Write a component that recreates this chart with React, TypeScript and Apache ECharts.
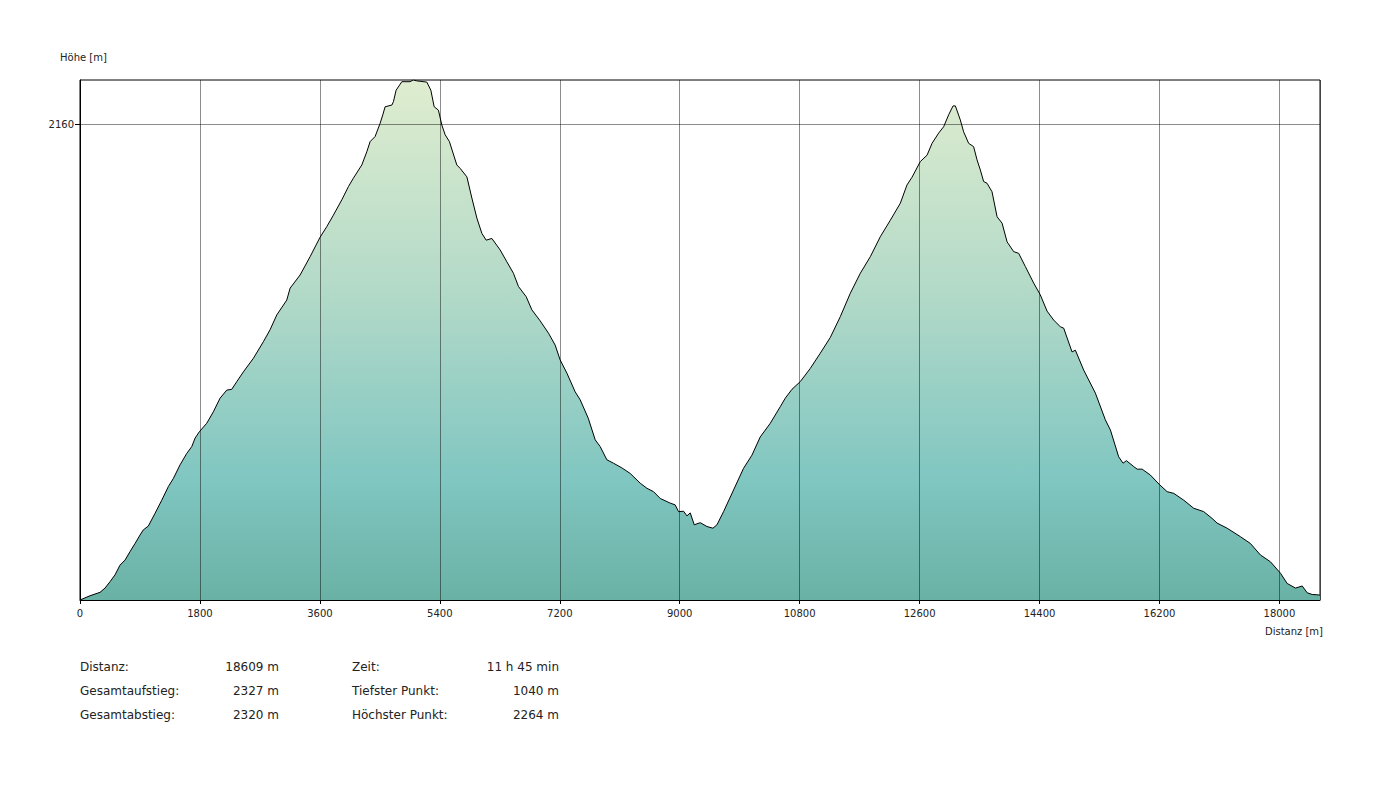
import React, { useEffect, useRef } from "react";
import * as echarts from "echarts";

// Distance along the route (m)
const distance = [
  0, 150, 300, 375, 450, 525, 600, 676, 751, 826, 901, 950, 1025, 1126, 1227, 1326, 1401, 1501, 1602, 1677,
  1727, 1791, 1902, 2001, 2102, 2202, 2278, 2353, 2452, 2602, 2752, 2852, 2953, 3103, 3153, 3303, 3453, 3603,
  3704, 3803, 3929, 4028, 4103, 4229, 4304, 4354, 4429, 4504, 4544, 4579, 4680, 4704, 4744, 4830, 4954, 4999,
  5055, 5205, 5265, 5315, 5379, 5430, 5480, 5544, 5655, 5705, 5806, 5881, 5956, 6031, 6095, 6181, 6305, 6406,
  6505, 6580, 6696, 6781, 6906, 7031, 7131, 7206, 7307, 7431, 7507, 7627, 7732, 7807, 7907, 8006, 8132, 8256,
  8407, 8508, 8607, 8708, 8858, 8931, 8983, 9058, 9108, 9158, 9218, 9308, 9409, 9499, 9559, 9658, 9808, 9958,
  10084, 10209, 10359, 10509, 10584, 10685, 10809, 10959, 11110, 11260, 11410, 11560, 11710, 11860, 12010,
  12161, 12311, 12411, 12486, 12611, 12712, 12787, 12886, 12961, 13036, 13102, 13137, 13211, 13261, 13336,
  13411, 13462, 13512, 13561, 13612, 13687, 13763, 13838, 13913, 14012, 14087, 14187, 14312, 14412, 14513,
  14612, 14713, 14762, 14888, 14938, 15063, 15238, 15388, 15464, 15588, 15654, 15704, 15814, 15865, 15940,
  16064, 16204, 16315, 16414, 16564, 16714, 16864, 16990, 17065, 17215, 17415, 17565, 17715, 17865, 18016,
  18116, 18241, 18342, 18417, 18492, 18591, 18609,
];

// Elevation (m)
const elevation = [
  1040, 1050, 1058, 1068, 1083, 1099, 1122, 1134, 1154, 1173, 1193, 1205, 1214, 1244, 1275, 1307, 1326, 1358, 1385, 1401,
  1421, 1436, 1456, 1483, 1515, 1534, 1536, 1554, 1577, 1609, 1648, 1676, 1711, 1746, 1774, 1805, 1848, 1894,
  1919, 1946, 1982, 2013, 2033, 2064, 2095, 2119, 2131, 2162, 2182, 2201, 2205, 2213, 2240, 2260, 2260, 2264,
  2262, 2259, 2240, 2201, 2193, 2158, 2135, 2119, 2064, 2056, 2036, 1986, 1939, 1903, 1887, 1891, 1864, 1836,
  1809, 1778, 1754, 1723, 1697, 1668, 1640, 1605, 1574, 1530, 1511, 1468, 1417, 1401, 1370, 1362, 1351, 1338,
  1315, 1303, 1295, 1279, 1268, 1264, 1248, 1249, 1238, 1245, 1217, 1222, 1213, 1209, 1217, 1248, 1299, 1350,
  1381, 1424, 1456, 1495, 1515, 1536, 1554, 1585, 1621, 1658, 1707, 1762, 1809, 1848, 1895,
  1934, 1974, 2017, 2035, 2072, 2087, 2115, 2139, 2154, 2182, 2203, 2203, 2170, 2142, 2115,
  2107, 2076, 2052, 2025, 2021, 2001, 1942, 1927, 1883, 1860, 1856, 1825, 1786, 1758, 1720,
  1699, 1683, 1680, 1624, 1628, 1581, 1527, 1464, 1440, 1377, 1362, 1368, 1354, 1348, 1348,
  1334, 1311, 1295, 1291, 1275, 1256, 1248, 1232, 1221, 1209, 1189, 1173, 1146, 1130, 1103,
  1079, 1068, 1073, 1057, 1053, 1052, 1051,
];

const xMin = 0;
const xMax = 18609;
const xInterval = 1800;
const yMin = 1040;
const yMax = 2264;
const yTickValues = [2160];

const statsLeftLabels = ["Distanz:", "Gesamtaufstieg:", "Gesamtabstieg:"];
const statsLeftValues = ["18609 m", "2327 m", "2320 m"];
const statsRightLabels = ["Zeit:", "Tiefster Punkt:", "Höchster Punkt:"];
const statsRightValues = ["11 h 45 min", "1040 m", "2264 m"];

const FONT = "DejaVu Sans, Verdana, sans-serif";
const GRID_COLOR = "rgba(0,0,0,0.45)";

export default function App() {
  const ref = useRef<HTMLDivElement>(null);

  useEffect(() => {
    if (!ref.current) return;
    const chart = echarts.init(ref.current, undefined, { renderer: "svg" });

    const data = distance.map((d, i) => [d, elevation[i]]);

    const statRowsY = [667, 691, 715];
    const statTexts: any[] = [];
    statRowsY.forEach((y, i) => {
      statTexts.push(
        { type: "text", x: 80, y, style: { text: statsLeftLabels[i], font: `12px ${FONT}`, fill: "#222", textAlign: "left", textVerticalAlign: "middle" } },
        { type: "text", x: 279, y, style: { text: statsLeftValues[i], font: `12px ${FONT}`, fill: "#222", textAlign: "right", textVerticalAlign: "middle" } },
        { type: "text", x: 352, y, style: { text: statsRightLabels[i], font: `12px ${FONT}`, fill: "#222", textAlign: "left", textVerticalAlign: "middle" } },
        { type: "text", x: 559, y, style: { text: statsRightValues[i], font: `12px ${FONT}`, fill: "#222", textAlign: "right", textVerticalAlign: "middle" } }
      );
    });

    chart.setOption({
      animation: false,
      backgroundColor: "#fff",
      grid: {
        left: 80,
        top: 80,
        width: 1240,
        height: 520,
        show: true,
        borderColor: "#000",
        borderWidth: 1,
        backgroundColor: "transparent",
        containLabel: false,
      },
      xAxis: {
        type: "value",
        min: xMin,
        max: xMax,
        interval: xInterval,
        z: 5,
        axisLine: { show: true, lineStyle: { color: "#000", width: 1 } },
        axisTick: { show: true, length: 4, lineStyle: { color: "#000" } },
        axisLabel: {
          show: true,
          showMaxLabel: false,
          margin: 8,
          color: "#222",
          fontFamily: FONT,
          fontSize: 10,
          formatter: (v: number) => (v % xInterval === 0 ? String(v) : ""),
        },
        splitLine: { show: true, lineStyle: { color: GRID_COLOR, width: 1 } },
      },
      yAxis: {
        type: "value",
        min: yMin,
        max: yMax,
        z: 5,
        axisLine: { show: true, lineStyle: { color: "#000", width: 1 } },
        axisTick: { show: true, length: 5, inside: false, customValues: yTickValues, lineStyle: { color: "#000" } },
        axisLabel: {
          show: true,
          customValues: yTickValues,
          margin: 6,
          color: "#222",
          fontFamily: FONT,
          fontSize: 10,
          formatter: (v: number) => String(v),
        },
        splitLine: { show: false },
      },
      series: [
        {
          type: "line",
          data,
          showSymbol: false,
          symbol: "none",
          smooth: false,
          lineStyle: { color: "#000", width: 1 },
          areaStyle: {
            color: new echarts.graphic.LinearGradient(0, 0, 0, 1, [
              { offset: 0, color: "#dfedcf" },
              { offset: 0.42, color: "#b1d9c8" },
              { offset: 0.77, color: "#80c6c1" },
              { offset: 1, color: "#6ab1a5" },
            ]),
            opacity: 1,
          },
          markLine: {
            silent: true,
            symbol: "none",
            label: { show: false },
            lineStyle: { color: GRID_COLOR, width: 1, type: "solid" },
            data: yTickValues.map((v) => ({ yAxis: v })),
          },
          z: 2,
        },
      ],
      graphic: [
        { type: "text", x: 60, y: 57, style: { text: "Höhe [m]", font: `10px ${FONT}`, fill: "#222", textAlign: "left", textVerticalAlign: "middle" } },
        { type: "text", x: 1323, y: 631, style: { text: "Distanz [m]", font: `10px ${FONT}`, fill: "#222", textAlign: "right", textVerticalAlign: "middle" } },
        ...statTexts,
      ],
    });

    return () => chart.dispose();
  }, []);

  return (
    <div
      ref={ref}
      style={{ position: "absolute", left: 0, top: 0, width: 1400, height: 800 }}
    />
  );
}
